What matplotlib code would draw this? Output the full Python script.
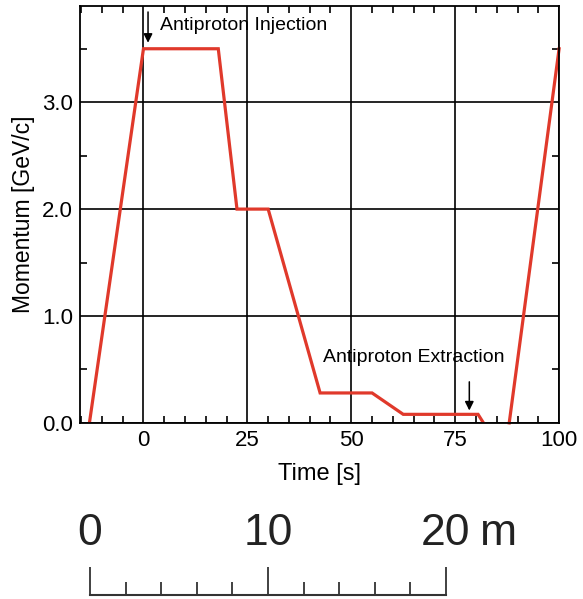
import numpy as np
import matplotlib
matplotlib.use("Agg")
import matplotlib.pyplot as plt
from matplotlib.ticker import MultipleLocator
from matplotlib.transforms import offset_copy

plt.rcParams['font.family'] = ['Liberation Sans', 'DejaVu Sans']

# momentum cycle (time in s, momentum in GeV/c)
t_ramp1 = [-13, 0, 18, 22.5, 30, 42.5, 55, 62.5, 80.5, 81.8]
p_ramp1 = [0.0, 3.5, 3.5, 2.0, 2.0, 0.28, 0.28, 0.08, 0.08, 0.0]
t_ramp2 = [88, 100]
p_ramp2 = [0.0, 3.5]

x_ticks = [0, 25, 50, 75, 100]
y_ticks = [0.0, 1.0, 2.0, 3.0]

# scale bar below the plot (metres)
scale_major = [0, 10, 20]
scale_labels = ["0", "10", "20"]

red = "#e0392b"

fig = plt.figure(figsize=(5.83, 5.99), dpi=100)
ax = fig.add_axes([0.137, 0.294, 0.822, 0.696])

ax.plot(t_ramp1, p_ramp1, color=red, lw=2.3, solid_joinstyle='miter')
ax.plot(t_ramp2, p_ramp2, color=red, lw=2.3, clip_on=False)

ax.set_xlim(-15.3, 100)
ax.set_ylim(0, 3.9)
ax.set_xticks(x_ticks)
ax.set_yticks(y_ticks)
ax.set_yticklabels(["%.1f" % v for v in y_ticks])
ax.xaxis.set_minor_locator(MultipleLocator(5))
ax.yaxis.set_minor_locator(MultipleLocator(0.5))
ax.grid(True, which='major', color='black', lw=1.2)
ax.tick_params(which='major', length=0, labelsize=16, pad=5)
ax.tick_params(which='minor', direction='in', length=5, width=1.2,
               top=True, right=True)
for s in ax.spines.values():
    s.set_linewidth(1.3)

ax.set_xlabel("Time [s]", fontsize=17, labelpad=9)
ax.set_ylabel("Momentum [GeV/c]", fontsize=16.5, labelpad=5)

ax.annotate("", xy=(1.1, 3.53), xytext=(1.1, 3.87),
            arrowprops=dict(arrowstyle='-|>', color='black', lw=1.1, mutation_scale=13))
ax.text(4, 3.72, "Antiproton Injection", fontsize=14, va='center', ha='left')

ax.annotate("", xy=(78.4, 0.09), xytext=(78.4, 0.41),
            arrowprops=dict(arrowstyle='-|>', color='black', lw=1.1, mutation_scale=13))
ax.text(43.1, 0.61, "Antiproton Extraction", fontsize=14, va='center', ha='left')

# scale bar
ax2 = fig.add_axes([0.1544, 0.0067, 0.6106, 0.047])
ax2.set_xlim(0, 20)
ax2.set_ylim(0, 1)
ax2.set_yticks([])
for k in ['left', 'right', 'top']:
    ax2.spines[k].set_visible(False)
ax2.spines['bottom'].set_color('#333333')
ax2.spines['bottom'].set_linewidth(1.5)
ax2.patch.set_alpha(0)
ax2.set_xticks(scale_major)
ax2.set_xticklabels(scale_labels)
ax2.xaxis.set_minor_locator(MultipleLocator(2))
ax2.tick_params(which='major', direction='in', length=20, width=1.3, color='#333333',
                labelbottom=False, labeltop=True, labelsize=32, pad=9,
                labelcolor='#222222')
ax2.tick_params(which='minor', direction='in', length=9.5, width=1.3, color='#333333')
ax2.text(21.9, 1.0, "m", transform=offset_copy(ax2.transData, fig, y=9, units='points'),
         fontsize=32, color='#222222', ha='left', va='bottom')

fig.savefig("out.png", dpi=100)
